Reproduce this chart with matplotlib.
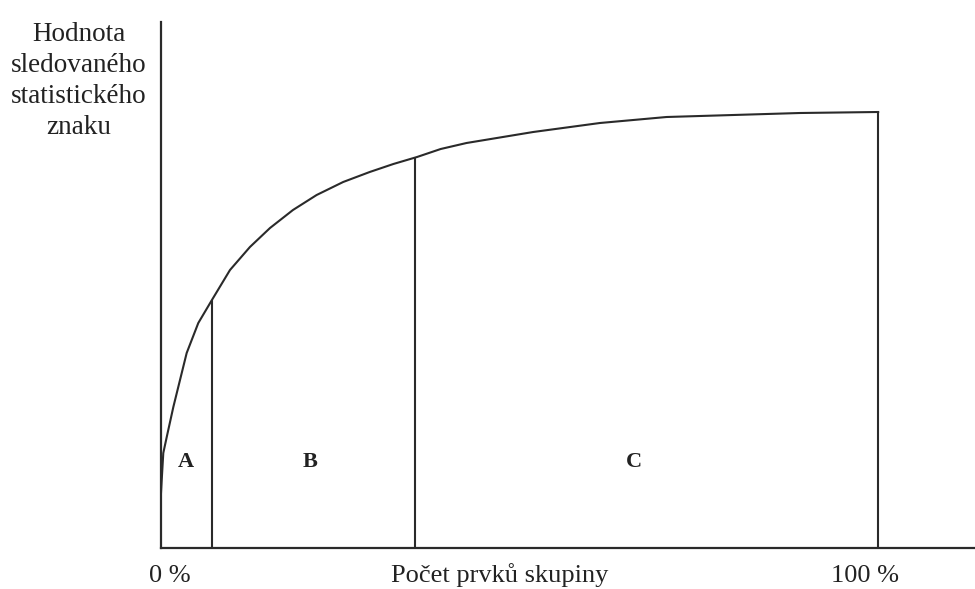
import matplotlib.pyplot as plt

# curve (x in % of items, y in arbitrary units)
curve_x = [0, 0.1, 0.32, 0.8, 1.72, 2.65, 3.58, 5.2, 7.1, 9.62, 12.4, 15.2, 18.4, 21.7,
           25.4, 29.1, 32.4, 35.7, 39.0, 42.6, 51.9, 61.2, 70.5, 79.8, 89.1, 100]
curve_y = [55, 68, 95, 111, 141, 168, 195, 225, 248, 278, 301, 320, 338, 353,
           366, 376, 384, 391, 399, 405, 416, 425, 431, 433, 435, 436]

# borders between groups A, B, C and the height of the curve there
bound_x = [7.1, 35.4, 100]
bound_y = [248, 391, 436]

group_names = ["A", "B", "C"]
group_x = [3.4, 20.8, 66.0]

plt.rcParams["font.family"] = ["Liberation Serif", "DejaVu Serif"]

fig = plt.figure(figsize=(9.75, 5.89), dpi=100)
ax = fig.add_axes([161 / 975, 41 / 589, 814 / 975, 526 / 589])

ax.plot(curve_x, curve_y, color="#2a2a2a", lw=1.5)
ax.vlines(bound_x, 0, bound_y, color="#2a2a2a", lw=1.5)

for name, gx in zip(group_names, group_x):
    ax.text(gx, 86, name, ha="center", va="center", fontsize=16, fontweight="bold", color="#222")

ax.set_xlim(0, 113.5)
ax.set_ylim(0, 526)
for s in ["top", "right"]:
    ax.spines[s].set_visible(False)
for s in ["left", "bottom"]:
    ax.spines[s].set_color("#2a2a2a")
    ax.spines[s].set_linewidth(1.6)
ax.set_xticks([])
ax.set_yticks([])

fig.text(79 / 975, 1 - 22 / 589, "Hodnota\nsledovaného\nstatistického\nznaku", ha="center", va="top",
         fontsize=19.5, linespacing=1.32, color="#222")
fig.text(170 / 975, 1 - 582 / 589, "0 %", ha="center", va="baseline", fontsize=19, color="#222")
fig.text(500 / 975, 1 - 582 / 589, "Počet prvků skupiny", ha="center", va="baseline", fontsize=19, color="#222")
fig.text(865 / 975, 1 - 582 / 589, "100 %", ha="center", va="baseline", fontsize=19, color="#222")

fig.savefig("out.png", dpi=100)
